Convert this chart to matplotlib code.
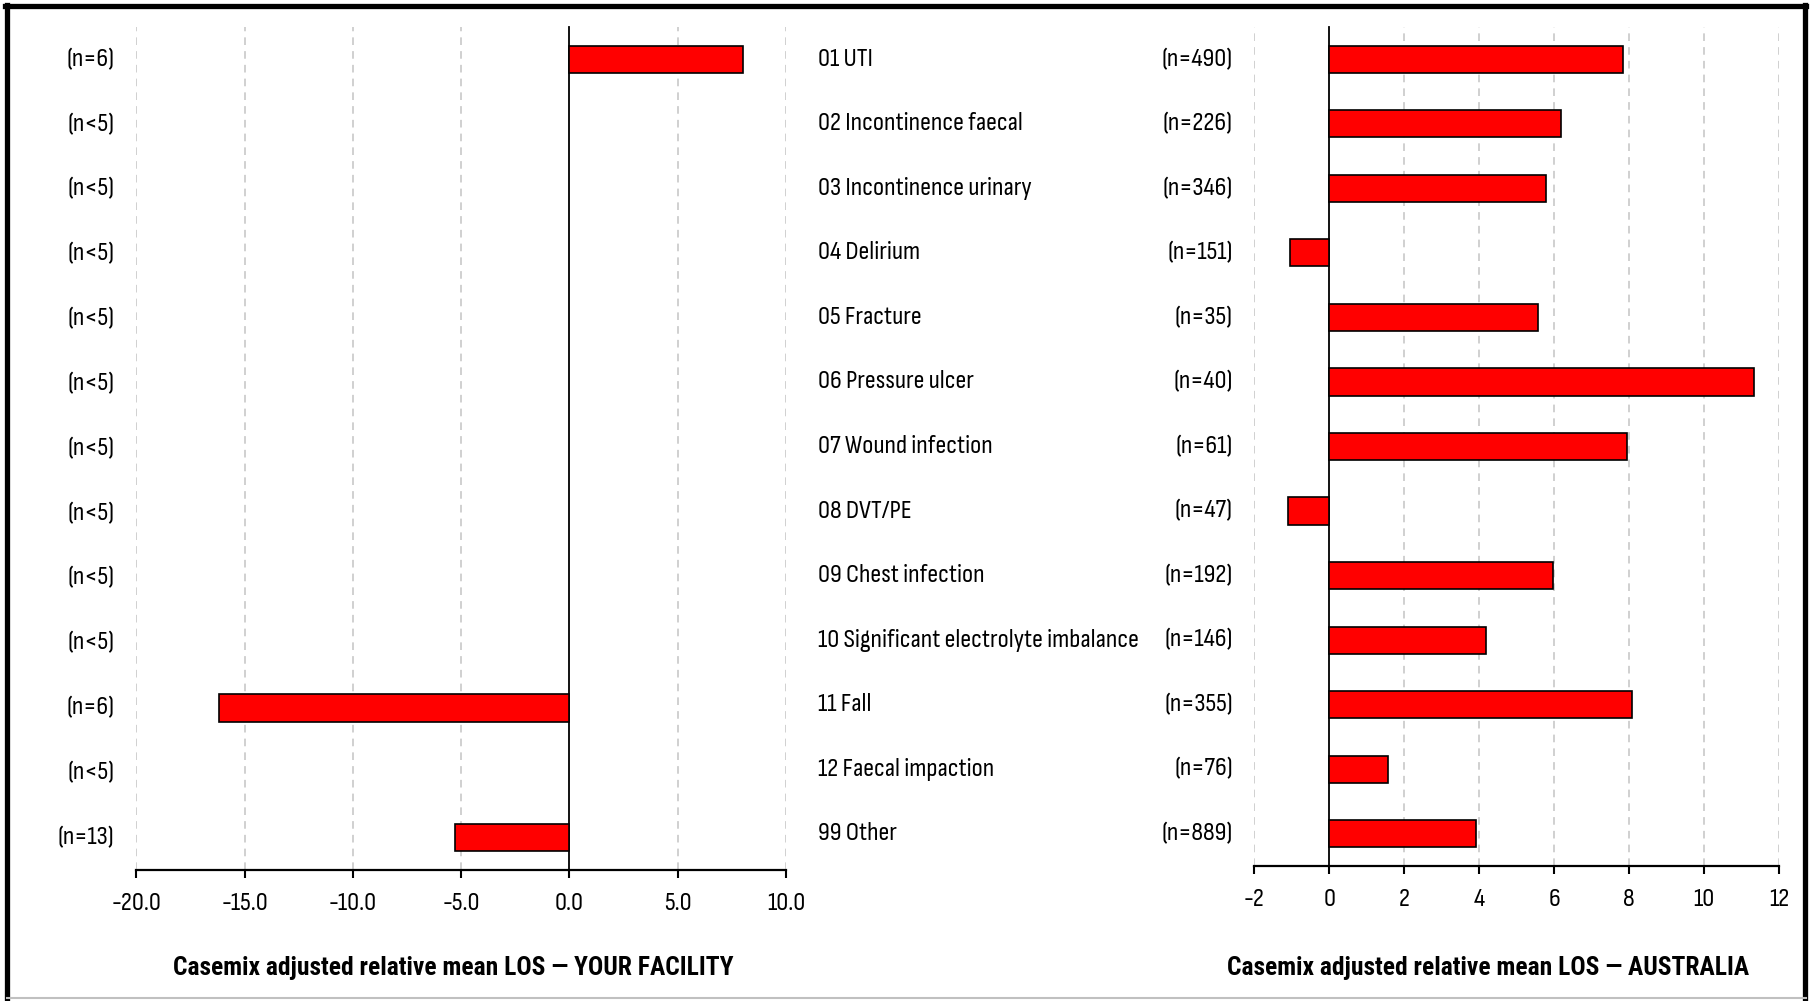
import matplotlib
matplotlib.use("Agg")
import matplotlib.pyplot as plt
import matplotlib.transforms as transforms
from matplotlib import font_manager
from matplotlib.font_manager import FontProperties
from matplotlib.textpath import TextPath
from matplotlib.lines import Line2D
import numpy as np

categories = ["01 UTI", "02 Incontinence faecal", "03 Incontinence urinary", "04 Delirium",
              "05 Fracture", "06 Pressure ulcer", "07 Wound infection", "08 DVT/PE",
              "09 Chest infection", "10 Significant electrolyte imbalance", "11 Fall",
              "12 Faecal impaction", "99 Other"]

# facility: n<5 rows are suppressed (no bar)
facility_n = ["(n=6)", "(n<5)", "(n<5)", "(n<5)", "(n<5)", "(n<5)", "(n<5)",
              "(n<5)", "(n<5)", "(n<5)", "(n=6)", "(n<5)", "(n=13)"]
facility_los = [8.0, None, None, None, None, None, None, None, None, None, -16.2, None, -5.3]

australia_n = ["(n=490)", "(n=226)", "(n=346)", "(n=151)", "(n=35)", "(n=40)", "(n=61)",
               "(n=47)", "(n=192)", "(n=146)", "(n=355)", "(n=76)", "(n=889)"]
australia_los = [7.82, 6.18, 5.79, -1.05, 5.57, 11.33, 7.93, -1.11, 5.97, 4.19, 8.06, 1.56, 3.92]

facility_ticks = [-20, -15, -10, -5, 0, 5, 10]
australia_ticks = [-2, 0, 2, 4, 6, 8, 10, 12]

facility_title = "Casemix adjusted relative mean LOS \u2014 YOUR FACILITY"
australia_title = "Casemix adjusted relative mean LOS \u2014 AUSTRALIA"

# narrow sans faces, whichever are around
installed = {f.name for f in font_manager.fontManager.ttflist}


def first_font(cands):
    return [f for f in cands if f in installed][:1] + ['DejaVu Sans']


body_family = first_font(["Sofia Sans Condensed", "Roboto Condensed", "Archivo Narrow", "Liberation Sans"])
title_family = first_font(["Roboto Condensed", "Archivo Narrow", "Liberation Sans"])
plt.rcParams['font.family'] = body_family

W, H = 1812, 1001
DPI = 100


def fit_size(s, width_px, family, weight="normal"):
    # font size (pt) that makes s about width_px wide
    fp = FontProperties(family=family, weight=weight)
    w = TextPath((0, 0), s, size=10, prop=fp).get_extents().width * DPI / 72
    return 10 * width_px / w


fs = fit_size("10 Significant electrolyte imbalance", 318, body_family)
fs_title = fit_size(facility_title, 560, title_family, "bold")

fig = plt.figure(figsize=(W / DPI, H / DPI), dpi=DPI)


def px_axes(x0, y0, x1, y1):
    # axes rectangle given in pixel coords, y measured from the top
    return fig.add_axes([x0 / W, 1 - y1 / H, (x1 - x0) / W, (y1 - y0) / H])


def setup_axes(ax, ticks, fmt):
    rows = np.arange(len(categories))
    ax.set_ylim(len(categories) - 0.5, -0.5)
    ax.set_xlim(ticks[0], ticks[-1])
    ax.set_xticks(ticks)
    ax.set_xticklabels([fmt.format(t) for t in ticks], fontsize=fs)
    ax.set_yticks([])
    for s in ["top", "right"]:
        ax.spines[s].set_visible(False)
    ax.spines["left"].set_position(("data", 0))
    ax.spines["left"].set_linewidth(1.3)
    ax.spines["bottom"].set_linewidth(1.6)
    ax.tick_params(axis="x", direction="out", length=6, width=1.5, pad=10)
    for t in ticks:
        if t != 0:
            ax.axvline(t, color="#c4c4c4", lw=1.1, ls=(0, (5, 4)), zorder=0)
    return rows


def draw_bars(ax, rows, values):
    for r, v in zip(rows, values):
        if v is None:
            continue
        ax.barh(r, v, height=0.42, color="#ff0000", edgecolor="black", linewidth=1.2, zorder=3)


# left panel: your facility
ax1 = px_axes(136.3, 27, 786, 870)
rows = setup_axes(ax1, facility_ticks, "{:.1f}")
draw_bars(ax1, rows, facility_los)
tr1 = transforms.blended_transform_factory(fig.transFigure, ax1.transData)
for r, lab in zip(rows, facility_n):
    ax1.text(114.5 / W, r, lab, transform=tr1, ha="right", va="center", fontsize=fs)

# right panel: Australia
ax2 = px_axes(1254.3, 27, 1779.3, 866)
rows = setup_axes(ax2, australia_ticks, "{:d}")
draw_bars(ax2, rows, australia_los)
tr2 = transforms.blended_transform_factory(fig.transFigure, ax2.transData)
for r, cat, lab in zip(rows, categories, australia_n):
    ax2.text(818 / W, r, cat, transform=tr2, ha="left", va="center", fontsize=fs)
    ax2.text(1233 / W, r, lab, transform=tr2, ha="right", va="center", fontsize=fs)

fig.text(453 / W, 1 - 968 / H, facility_title, family=title_family,
         ha="center", va="center", fontsize=fs_title, fontweight="bold")
fig.text(1488 / W, 1 - 968 / H, australia_title, family=title_family,
         ha="center", va="center", fontsize=fs_title, fontweight="bold")

# outer frame
frame_lw = 3.8
fig.add_artist(Line2D([7 / W, 7 / W], [1 - 998 / H, 1 - 5 / H], color="black", lw=frame_lw,
                      transform=fig.transFigure))
fig.add_artist(Line2D([5 / W, 1806 / W], [1 - 5.5 / H, 1 - 5.5 / H], color="black", lw=frame_lw,
                      transform=fig.transFigure))
fig.add_artist(Line2D([1805 / W, 1805 / W], [1 - 998 / H, 1 - 5 / H], color="black", lw=frame_lw,
                      transform=fig.transFigure))
fig.add_artist(Line2D([7 / W, 1806 / W], [1 - 998 / H, 1 - 998 / H], color="#c0c0c0", lw=1.5,
                      transform=fig.transFigure))

fig.savefig("out.png", dpi=DPI)
